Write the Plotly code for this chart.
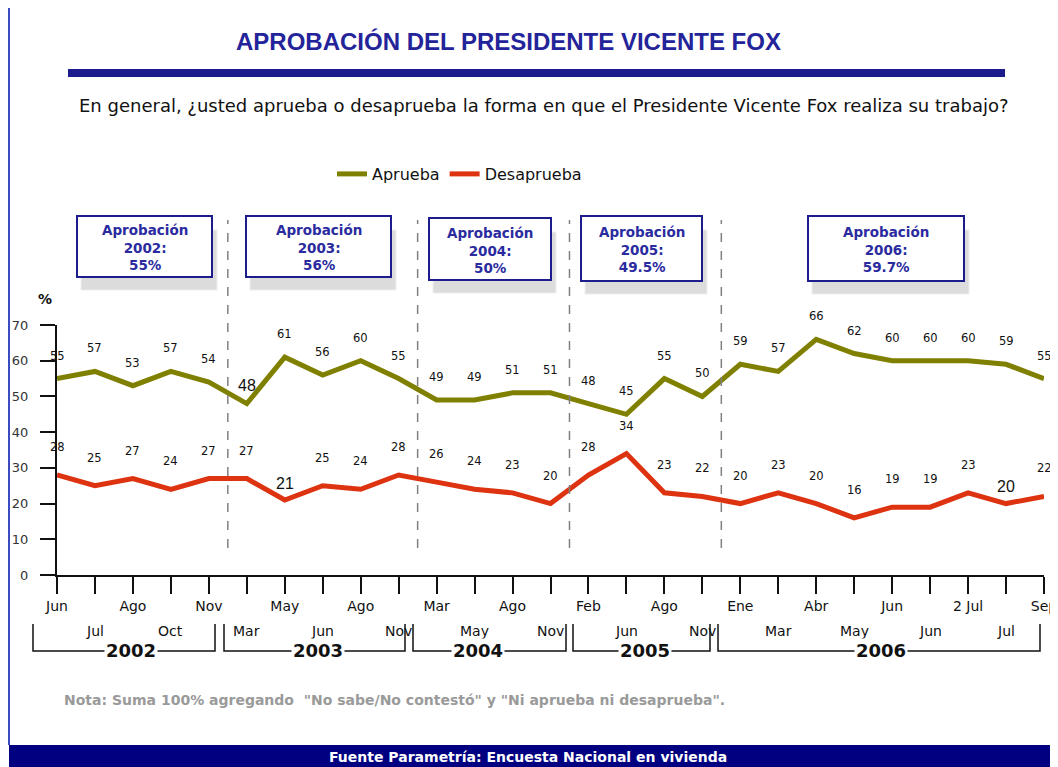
import plotly.graph_objects as go

# ---------------- data ----------------
periods = ["Jun", "Jul", "Ago", "Oct", "Nov",
           "Mar", "May", "Jun", "Ago", "Nov",
           "Mar", "May", "Ago", "Nov",
           "Feb", "Jun", "Ago", "Nov",
           "Ene", "Mar", "Abr", "May", "Jun", "Jun", "2 Jul", "Jul", "Sep"]
aprueba = [55, 57, 53, 57, 54,
           48, 61, 56, 60, 55,
           49, 49, 51, 51,
           48, 45, 55, 50,
           59, 57, 66, 62, 60, 60, 60, 59, 55]
desaprueba = [28, 25, 27, 24, 27,
              27, 21, 25, 24, 28,
              26, 24, 23, 20,
              28, 34, 23, 22,
              20, 23, 20, 16, 19, 19, 23, 20, 22]
years = ["2002", "2003", "2004", "2005", "2006"]
year_counts = [5, 5, 4, 4, 9]
annual_approval = ["55%", "56%", "50%", "49.5%", "59.7%"]
y_ticks = [0, 10, 20, 30, 40, 50, 60, 70]

# ---------------- layout helpers ----------------
# the page adds an 8px body margin, so the figure is drawn 8px smaller
OFF = 8
PAGE_W, PAGE_H = 1058, 767
FW, FH = PAGE_W - OFF, PAGE_H - OFF
L, R, T, B = 57, 1044, 325, 575          # plot area in page pixels
def X(px):
    return (px - L) / (R - L)
def Y(py):
    return (B - py) / (B - T)

OLIVE = "#808000"
RED = "#dd3311"
NAVY = "#1c1c8c"
TXT_BLUE = "#2b2ba0"
FONT = "DejaVu Sans"

n = len(periods)
xs = list(range(n))

fig = go.Figure()
fig.add_trace(go.Scatter(x=xs, y=aprueba, mode="lines", name="Aprueba",
                         line=dict(color=OLIVE, width=5), hoverinfo="y"))
fig.add_trace(go.Scatter(x=xs, y=desaprueba, mode="lines", name="Desaprueba",
                         line=dict(color=RED, width=5), hoverinfo="y"))

annotations = []
shapes = []

def pann(x, y, text, size, color="#111", weight="normal", family=FONT,
         xanchor="center", yanchor="middle", **kw):
    annotations.append(dict(x=X(x), y=Y(y), xref="paper", yref="paper", text=text,
                            showarrow=False, xanchor=xanchor, yanchor=yanchor,
                            font=dict(family=family, size=size, color=color, weight=weight), **kw))

# data labels
big_a = {5}
big_d = {6, 25}
for i, v in enumerate(aprueba):
    big = i in big_a
    annotations.append(dict(x=i, y=v, xref="x", yref="y", text=str(v), showarrow=False,
                            xanchor="center", yanchor="middle",
                            yshift=18 if big else 23,
                            font=dict(family="Liberation Sans" if big else FONT,
                                      size=16 if big else 11.5, color="#111")))
for i, v in enumerate(desaprueba):
    big = i in big_d
    annotations.append(dict(x=i, y=v, xref="x", yref="y", text=str(v), showarrow=False,
                            xanchor="center", yanchor="middle",
                            yshift=17 if big else 28,
                            font=dict(family="Liberation Sans" if big else FONT,
                                      size=16 if big else 11.5, color="#111")))

# second row of x tick labels (odd points)
for i in range(1, n, 2):
    annotations.append(dict(x=i, y=Y(631), xref="x", yref="paper", text=periods[i],
                            showarrow=False, xanchor="center", yanchor="middle",
                            font=dict(family=FONT, size=14, color="#111")))

# year separators (dashed)
idx = 0
bounds = []
for c in year_counts:
    bounds.append((idx, idx + c - 1))
    idx += c
for k in range(len(bounds) - 1):
    xsep = (bounds[k][1] + bounds[k + 1][0]) / 2 / (n - 1)
    shapes.append(dict(type="line", xref="paper", yref="paper", x0=xsep, x1=xsep,
                       y0=Y(548), y1=Y(220), line=dict(color="#808080", width=1.5, dash="dash")))

# annual approval boxes
boxes = [(77, 212, 216, 277), (246, 391, 216, 277), (429, 551, 218, 280),
         (581, 702, 216, 281), (808, 964, 216, 281)]
for (x0, x1, y0, y1), yr, val in zip(boxes, years, annual_approval):
    shapes.append(dict(type="rect", xref="paper", yref="paper",
                       x0=X(x0 + 4), x1=X(x1 + 5), y0=Y(y0 + 14), y1=Y(y1 + 13),
                       fillcolor="#dcdcdc", line=dict(color="#eeeeee", width=1), layer="above"))
    shapes.append(dict(type="rect", xref="paper", yref="paper",
                       x0=X(x0), x1=X(x1), y0=Y(y0), y1=Y(y1),
                       fillcolor="white", line=dict(color=NAVY, width=2), layer="above"))
    pann((x0 + x1) / 2, (y0 + y1) / 2 + 1, f"Aprobación<br>{yr}:<br>{val}", 13.5,
         color=TXT_BLUE, weight="bold", align="center")

# year brackets
brackets = [(33, 215), (224, 405), (413, 566), (573, 710), (718, 1040)]
label_x = [131, 318, 478, 645, 881]
for (bx0, bx1), yr, lx in zip(brackets, years, label_x):
    path = f"M {X(bx0)},{Y(624)} L {X(bx0)},{Y(651)} L {X(bx1)},{Y(651)} L {X(bx1)},{Y(624)}"
    shapes.append(dict(type="path", xref="paper", yref="paper", path=path,
                       line=dict(color="#111", width=1.5)))
    pann(lx, 650, yr, 18, weight="bold", bgcolor="white")

# title, bar, subtitle
pann(508, 42, "APROBACIÓN DEL PRESIDENTE VICENTE FOX", 24, color="#24249a",
     weight="bold", family="Liberation Sans")
shapes.append(dict(type="rect", xref="paper", yref="paper", x0=X(68), x1=X(1005),
                   y0=Y(69), y1=Y(77), fillcolor=NAVY, line=dict(width=0)))
pann(544, 105, "En general, ¿usted aprueba o desaprueba la forma en que el Presidente Vicente Fox realiza su trabajo?",
     18)

# % label
pann(45, 299, "%", 14, weight="bold")

# note
pann(62, 700, "Nota: Suma 100% agregando  \"No sabe/No contestó\" y \"Ni aprueba ni desaprueba\".",
     14, color="#9a9a9a", weight="bold", xanchor="left")

# footer bar
shapes.append(dict(type="rect", xref="paper", yref="paper", x0=X(9), x1=X(1070),
                   y0=Y(745), y1=Y(790), fillcolor="#000080", line=dict(width=0)))
pann(528, 757, "Fuente Parametría: Encuesta Nacional en vivienda", 14, color="white", weight="bold")

# left border
shapes.append(dict(type="line", xref="paper", yref="paper", x0=X(9), x1=X(9),
                   y0=Y(-5), y1=Y(745), line=dict(color="#3a4cc0", width=2)))

fig.update_layout(
    width=FW, height=FH,
    margin=dict(l=L - OFF, r=PAGE_W - R, t=T - OFF, b=PAGE_H - B, pad=0, autoexpand=False),
    paper_bgcolor="white", plot_bgcolor="white",
    showlegend=True,
    legend=dict(orientation="h", x=X(332), y=Y(174), xanchor="left", yanchor="middle",
                font=dict(family=FONT, size=16, color="#111"), bgcolor="rgba(0,0,0,0)",
                itemwidth=30, tracegroupgap=0),
    annotations=annotations, shapes=shapes,
    xaxis=dict(range=[0, n - 1], tickmode="array", tickvals=xs,
               ticktext=[p if i % 2 == 0 else "" for i, p in enumerate(periods)],
               ticks="outside", ticklen=17, tickwidth=2, tickcolor="#111",
               showline=True, linecolor="#111", linewidth=2, showgrid=False, zeroline=False,
               automargin=False,
               tickfont=dict(family=FONT, size=14, color="#111"), fixedrange=True),
    yaxis=dict(range=[0, 70], tickmode="array", tickvals=y_ticks,
               ticks="outside", ticklen=15, tickwidth=2, tickcolor="#111",
               showline=True, linecolor="#111", linewidth=2, showgrid=False, zeroline=False,
               ticklabelstandoff=9, automargin=False,
               tickfont=dict(family=FONT, size=13, color="#333"), fixedrange=True),
)

fig.write_html("out.html")
